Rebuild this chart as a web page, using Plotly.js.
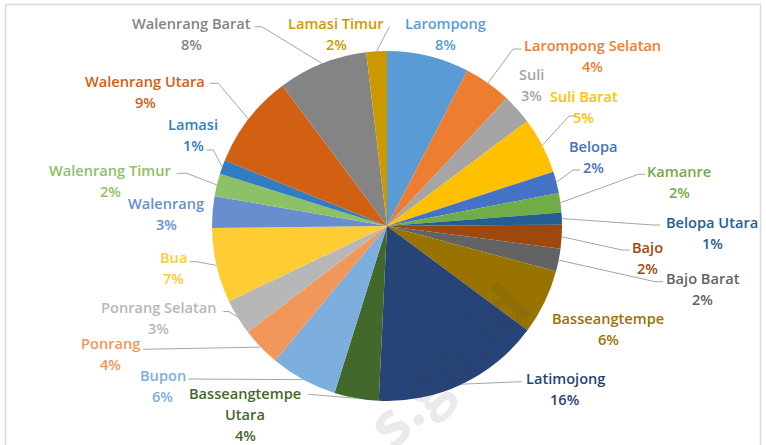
<!DOCTYPE html>
<html>
<head>
<meta charset="utf-8">
<script src="https://cdn.plot.ly/plotly-3.0.1.min.js"></script>
<style>
  html, body { margin: 0; padding: 0; background: #ffffff; }
  #chart { width: 766px; height: 445px; }
</style>
</head>
<body>
<div id="chart"></div>
<script>
// ---- data ----
var kecamatan = ["Larompong", "Larompong Selatan", "Suli", "Suli Barat", "Belopa", "Kamanre",
  "Belopa Utara", "Bajo", "Bajo Barat", "Basseangtempe", "Latimojong", "Basseangtempe Utara",
  "Bupon", "Ponrang", "Ponrang Selatan", "Bua", "Walenrang", "Walenrang Timur", "Lamasi",
  "Walenrang Utara", "Walenrang Barat", "Lamasi Timur"];
var nilai = [7.6, 4.4, 2.8, 5.2, 2.0, 1.8, 1.1, 2.2, 2.1, 6.0, 15.6, 4.1,
  6.2, 3.6, 3.3, 6.9, 2.9, 2.1, 1.3, 8.7, 8.3, 1.9];
var warna = ["#5B9BD5", "#ED7D31", "#A5A5A5", "#FFC000", "#4472C4", "#70AD47",
  "#255E91", "#9E480E", "#636363", "#997300", "#264478", "#43682B",
  "#7CAFDD", "#F1975A", "#B7B7B7", "#FFCD33", "#698ED0", "#8CC168",
  "#327DC2", "#D26012", "#848484", "#CC9A00"];

// ---- layout (pixel positions of label centres, leader anchors) ----
var W = 766, H = 445;
var CX = 387, CY = 226, R = 175;
var LINE = 21;
var labelName = [["Larompong"], ["Larompong Selatan"], ["Suli"], ["Suli Barat"], ["Belopa"], ["Kamanre"],
  ["Belopa Utara"], ["Bajo"], ["Bajo Barat"], ["Basseangtempe"], ["Latimojong"], ["Basseangtempe", "Utara"],
  ["Bupon"], ["Ponrang"], ["Ponrang Selatan"], ["Bua"], ["Walenrang"], ["Walenrang Timur"], ["Lamasi"],
  ["Walenrang Utara"], ["Walenrang Barat"], ["Lamasi Timur"]];
var labelPos = [[445.5, 22.7], [592, 45], [531, 74], [583.8, 95.7], [593.6, 145.7], [679, 171],
  [712, 221.7], [647.3, 246.7], [702.5, 278.3], [608.2, 318.3], [565.2, 377.7], [245.2, 392.7],
  [162.7, 375.3], [110.9, 343.3], [158.8, 307.3], [173.4, 257.3], [166.1, 203.3], [110, 170],
  [193, 124.3], [145.1, 81], [191.5, 22.7], [336, 22.7]];
// [anchorX, anchorY, elbowX] (line from label to slice edge), null = no leader line
var leader = [null, [521.7, 49, 513], null, [575, 116, 569], [580, 170, 573], [645, 174.3, 638.3],
  [660, 225, 653], [630, 250, 622], [663.3, 281.7, 655], null, [521.7, 381.7, 521.7], [308.3, 394.3, 308.3],
  [188.3, 379, 188.3], [143.3, 349.3, 143.3], [223.3, 311.5, 229], [190, 261.7, 196.7], null, [176.7, 173.3, 186.7],
  [206.7, 150, 213.3], [210, 83.3, 218.3], [255, 26.7, 261.7], [389.4, 26.7, 389.4]];

function px(x) { return x / W; }
function py(y) { return 1 - y / H; }

var total = nilai.reduce(function (a, b) { return a + b; }, 0);

var annotations = [];
var shapes = [];
var cum = 0;
for (var i = 0; i < nilai.length; i++) {
  var mid = (cum + nilai[i] / 2) / total * 2 * Math.PI;
  cum += nilai[i];
  var lines = labelName[i].concat([Math.round(nilai[i] / total * 100) + "%"]);
  for (var k = 0; k < lines.length; k++) {
    annotations.push({
      xref: "paper", yref: "paper",
      x: px(labelPos[i][0]), y: py(labelPos[i][1] + k * LINE),
      xanchor: "center", yanchor: "middle",
      text: lines[k], showarrow: false,
      font: { family: "Open Sans, sans-serif", size: 14.6, weight: 600, color: warna[i] }
    });
  }
  if (leader[i]) {
    var ex = CX + R * Math.sin(mid), ey = CY - R * Math.cos(mid);
    var L = leader[i];
    shapes.push({
      type: "path", xref: "paper", yref: "paper", layer: "above",
      path: "M" + px(L[0]) + "," + py(L[1]) + " L" + px(L[2]) + "," + py(L[1]) + " L" + px(ex) + "," + py(ey),
      line: { color: "#A6A6A6", width: 1 }
    });
  }
}

// frame
shapes.push({ type: "rect", xref: "paper", yref: "paper", layer: "below",
  x0: px(5.5), x1: px(760.5), y0: py(460), y1: py(4.5), line: { color: "#D9D9D9", width: 1.5 } });

// watermark
annotations.push({ xref: "paper", yref: "paper", x: px(447), y: py(364), text: "s.go.id",
  showarrow: false, textangle: -45, xanchor: "center", yanchor: "middle",
  font: { family: "Open Sans, sans-serif", size: 62, weight: 700, color: "rgba(60,60,60,0.11)" } });

var trace = {
  type: "pie",
  labels: kecamatan,
  values: nilai,
  sort: false,
  direction: "clockwise",
  rotation: 0,
  textinfo: "none",
  hoverinfo: "label+percent",
  marker: { colors: warna, line: { width: 0 } },
  domain: { x: [px(CX - R), px(CX + R)], y: [py(CY + R), py(CY - R)] },
  showlegend: false
};

var layout = {
  width: W, height: H,
  margin: { l: 0, r: 0, t: 0, b: 0 },
  paper_bgcolor: "#ffffff",
  showlegend: false,
  annotations: annotations,
  shapes: shapes
};

Plotly.newPlot("chart", [trace], layout, { displayModeBar: false, staticPlot: true });
</script>
</body>
</html>
